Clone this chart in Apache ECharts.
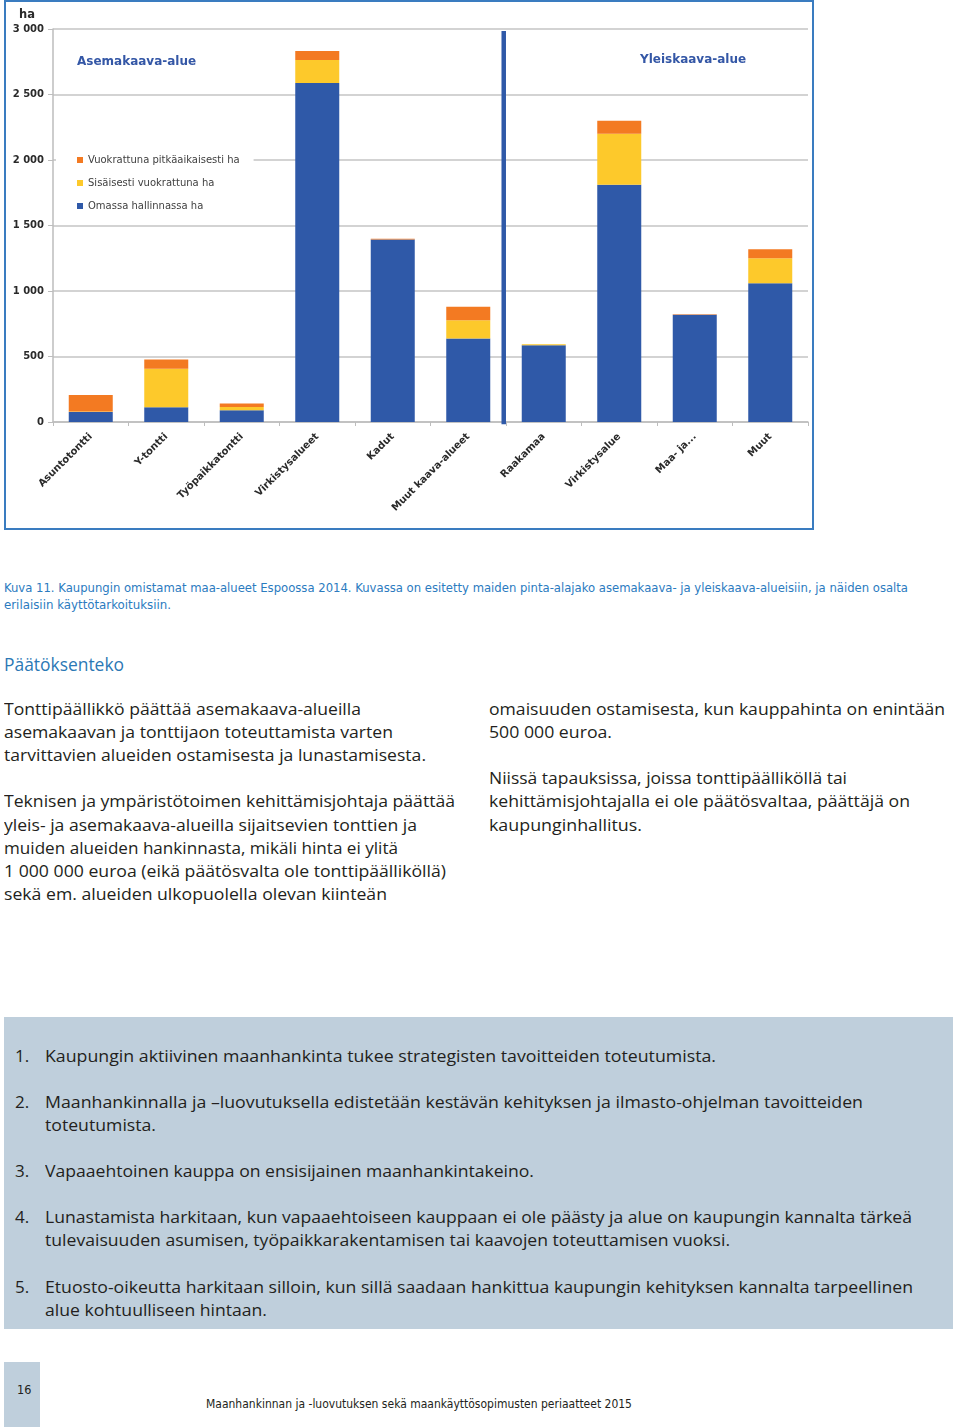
<!DOCTYPE html>
<html>
<head>
<meta charset="utf-8">
<script src="https://cdn.jsdelivr.net/npm/echarts@6/dist/echarts.min.js"></script>
<style>
  html, body { margin: 0; padding: 0; background: #fff; }
  body { width: 960px; height: 1427px; position: relative; overflow: hidden; font-family: "Open Sans", "Noto Sans", sans-serif; color: #231f20; }
  #chart { position: absolute; left: 0; top: 0; width: 960px; height: 540px; }
  .frame { position: absolute; left: 4px; top: 0px; width: 806px; height: 526px; border: 2px solid #3a7cc0; box-sizing: content-box; pointer-events: none; }
  .ln { position: absolute; white-space: nowrap; transform-origin: 0 50%; }
  .cap { font-family: "Liberation Sans Narrow", "DejaVu Sans Condensed", "Open Sans", sans-serif; font-size: 12.5px; line-height: 16px; color: #2b7bbf; }
  .body { font-size: 17px; line-height: 22px; color: #231f20; }
  .h { font-size: 18.5px; line-height: 24px; color: #2b78b5; }
  .box { position: absolute; left: 4px; top: 1017px; width: 949px; height: 312px; background: #bfcfdc; }
  .pg { position: absolute; left: 4px; top: 1362px; width: 36px; height: 65px; background: #bfcfdc; }
  .foot { font-family: "Liberation Sans Narrow", "DejaVu Sans Condensed", "Open Sans", sans-serif; font-size: 12.5px; line-height: 16px; color: #231f20; }
</style>
</head>
<body>
<div id="chart"></div>
<div class="frame"></div>

<div class="box"></div>
<div class="pg"></div>

<div id="texts"></div>

<script>
// ---------- chart data ----------
const categories = ['Asuntotontti', 'Y-tontti', 'Työpaikkatontti', 'Virkistysalueet', 'Kadut', 'Muut kaava-alueet', 'Raakamaa', 'Virkistysalue', 'Maa- ja...', 'Muut'];
const seriesNames = ['Omassa hallinnassa ha', 'Sisäisesti vuokrattuna ha', 'Vuokrattuna pitkäaikaisesti ha'];
const ownValues = [76, 112, 89, 2587, 1393, 638, 585, 1812, 818, 1060];
const internalValues = [5, 295, 25, 177, 0, 139, 8, 388, 0, 190];
const leasedValues = [125, 71, 28, 69, 5, 102, 0, 100, 5, 69];
const yTicks = [0, 500, 1000, 1500, 2000, 2500, 3000];
const dividerPosition = [5.97];
const regionLabels = ['Asemakaava-alue', 'Yleiskaava-alue'];
const unitLabel = 'ha';

// ---------- page text ----------
const captionLines = [
  'Kuva 11. Kaupungin omistamat maa-alueet Espoossa 2014. Kuvassa on esitetty maiden pinta-alajako asemakaava- ja yleiskaava-alueisiin, ja näiden osalta',
  'erilaisiin käyttötarkoituksiin.'
];
const heading = 'Päätöksenteko';
const leftColumn = [
  'Tonttipäällikkö päättää asemakaava-alueilla',
  'asemakaavan ja tonttijaon toteuttamista varten',
  'tarvittavien alueiden ostamisesta ja lunastamisesta.',
  '',
  'Teknisen ja ympäristötoimen kehittämisjohtaja päättää',
  'yleis- ja asemakaava-alueilla sijaitsevien tonttien ja',
  'muiden alueiden hankinnasta, mikäli hinta ei ylitä',
  '1 000 000 euroa (eikä päätösvalta ole tonttipäälliköllä)',
  'sekä em. alueiden ulkopuolella olevan kiinteän'
];
const rightColumn = [
  'omaisuuden ostamisesta, kun kauppahinta on enintään',
  '500 000 euroa.',
  '',
  'Niissä tapauksissa, joissa tonttipäälliköllä tai',
  'kehittämisjohtajalla ei ole päätösvaltaa, päättäjä on',
  'kaupunginhallitus.'
];
const principles = [
  ['Kaupungin aktiivinen maanhankinta tukee strategisten tavoitteiden toteutumista.'],
  ['Maanhankinnalla ja –luovutuksella edistetään kestävän kehityksen ja ilmasto-ohjelman tavoitteiden', 'toteutumista.'],
  ['Vapaaehtoinen kauppa on ensisijainen maanhankintakeino.'],
  ['Lunastamista harkitaan, kun vapaaehtoiseen kauppaan ei ole päästy ja alue on kaupungin kannalta tärkeä', 'tulevaisuuden asumisen, työpaikkarakentamisen tai kaavojen toteuttamisen vuoksi.'],
  ['Etuosto-oikeutta harkitaan silloin, kun sillä saadaan hankittua kaupungin kehityksen kannalta tarpeellinen', 'alue kohtuulliseen hintaan.']
];
const pageNumber = '16';
const footerText = 'Maanhankinnan ja -luovutuksen sekä maankäyttösopimusten  periaatteet 2015';

// ---------- layout of text lines (positions/styles) ----------
const T = document.getElementById('texts');
function addLine(text, cls, x, cy, w, lh) {
  if (!text) return;
  const d = document.createElement('div');
  d.className = 'ln ' + cls;
  d.textContent = text;
  d.style.left = x + 'px';
  d.style.top = (cy - lh / 2) + 'px';
  T.appendChild(d);
  if (w) {
    const r = d.getBoundingClientRect().width;
    if (r > 0) d.style.transform = 'scaleX(' + (w / r) + ')';
  }
}
const capW = [904, 167];
captionLines.forEach((t, i) => addLine(t, 'cap', 4, 588 + i * 17, capW[i], 16));
addLine(heading, 'h', 4, 664, 120, 24);
const leftW = [357, 389, 422, 0, 451, 413, 394, 442, 383];
leftColumn.forEach((t, i) => addLine(t, 'body', 4, 709 + i * 23.1, leftW[i], 22));
const rightW = [456, 123, 0, 358, 421, 153];
rightColumn.forEach((t, i) => addLine(t, 'body', 489, 709 + i * 23.1, rightW[i], 22));
const principleY = [[1056], [1102, 1125], [1171], [1217, 1240], [1287, 1310]];
const principleW = [[671], [818, 111], [489], [867, 685], [868, 222]];
principles.forEach((lines, i) => {
  addLine((i + 1) + '.', 'body', 15, principleY[i][0], 0, 22);
  lines.forEach((t, j) => addLine(t, 'body', 45, principleY[i][j], principleW[i][j], 22));
});
addLine(pageNumber, 'foot', 17, 1390, 0, 16);
addLine(footerText, 'foot', 206, 1404, 426, 16);

// ---------- chart ----------
const chart = echarts.init(document.getElementById('chart'), null, { renderer: 'canvas' });
const C_BLUE = '#2f59a8', C_YELLOW = '#fdc92b', C_ORANGE = '#f37a22';
const fmt = v => String(v).replace(/\B(?=(\d{3})+(?!\d))/g, ' ');
const chartFont = '"DejaVu Sans", Lato, sans-serif';

chart.setOption({
  animation: false,
  textStyle: { fontFamily: chartFont },
  grid: { left: 53, right: 152, top: 29, bottom: 118, containLabel: false },
  legend: {
    data: [seriesNames[2], seriesNames[1], seriesNames[0]],
    orient: 'vertical',
    left: 56, top: 150,
    padding: [5, 14, 5, 21],
    backgroundColor: '#fff',
    itemWidth: 6, itemHeight: 6, itemGap: 13,
    icon: 'rect',
    textStyle: { fontSize: 10, color: '#404040', fontFamily: chartFont, padding: [0, 0, 0, 0] }
  },
  xAxis: [{
    type: 'category',
    data: categories,
    axisLine: { lineStyle: { color: '#bdbdbd', width: 1.5 } },
    axisTick: { show: true, alignWithLabel: false, length: 4, lineStyle: { color: '#bdbdbd' } },
    axisLabel: { rotate: 45, interval: 0, fontSize: 10, fontWeight: 'bold', color: '#2a2a2a', margin: 13 }
  }, {
    type: 'value', min: 0, max: 10, show: false
  }],
  yAxis: {
    type: 'value', min: yTicks[0], max: yTicks[yTicks.length - 1], interval: 500,
    name: unitLabel,
    nameLocation: 'end',
    nameGap: 8,
    nameTextStyle: { fontSize: 11.5, fontWeight: 'bold', color: '#2a2a2a', align: 'right', padding: [0, 18, 0, 0] },
    axisLine: { show: true, lineStyle: { color: '#bdbdbd', width: 1.5 } },
    axisTick: { show: true, length: 5, lineStyle: { color: '#bdbdbd' } },
    splitLine: { lineStyle: { color: '#c4c4c4', width: 1.5 } },
    axisLabel: { fontSize: 10, fontWeight: 'bold', color: '#2a2a2a', margin: 9, formatter: fmt }
  },
  series: [
    { name: seriesNames[0], type: 'bar', stack: 'a', data: ownValues, itemStyle: { color: C_BLUE }, barWidth: 44 },
    { name: seriesNames[1], type: 'bar', stack: 'a', data: internalValues, itemStyle: { color: C_YELLOW }, barWidth: 44 },
    { name: seriesNames[2], type: 'bar', stack: 'a', data: leasedValues, itemStyle: { color: C_ORANGE }, barWidth: 44 },
    {
      name: 'divider', type: 'line', xAxisIndex: 1, silent: true, symbol: 'none', z: 5,
      data: [[dividerPosition[0], -30], [dividerPosition[0], yTicks[yTicks.length - 1] - 15]],
      lineStyle: { color: C_BLUE, width: 4.5 }
    }
  ],
  graphic: [
    { type: 'text', left: 77, top: 56, style: { text: regionLabels[0], fill: '#3457a6', font: 'bold 12px ' + chartFont } },
    { type: 'text', left: 640, top: 54, style: { text: regionLabels[1], fill: '#3457a6', font: 'bold 12px ' + chartFont } }
  ]
});
</script>
</body>
</html>
